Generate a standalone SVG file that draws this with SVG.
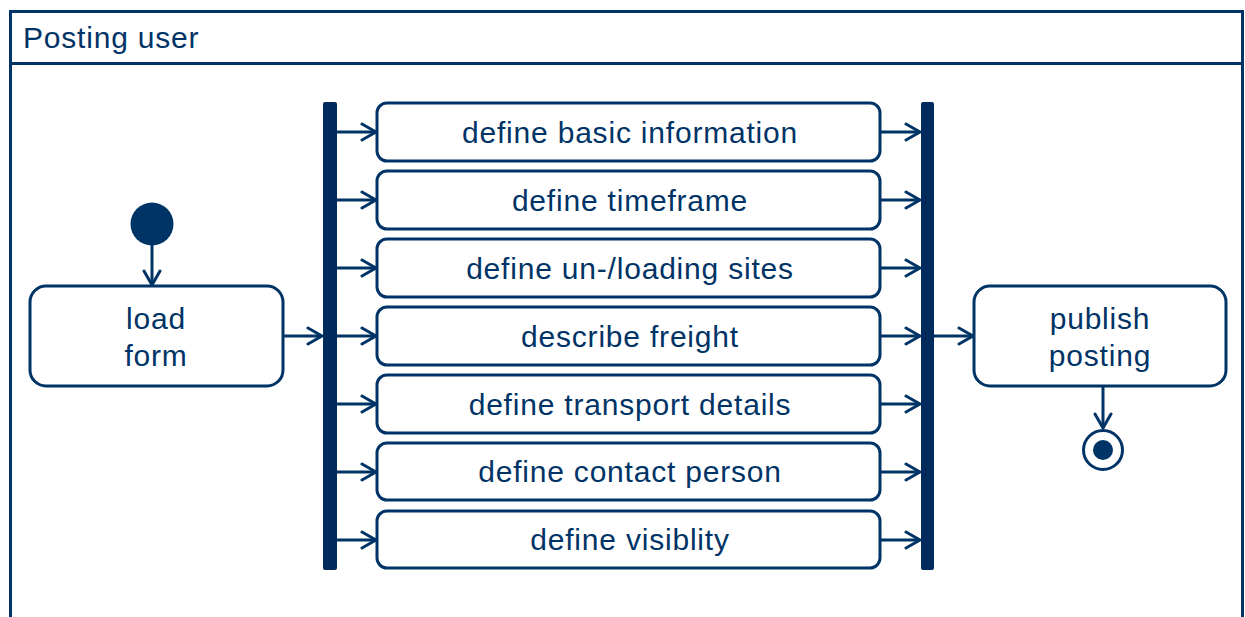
<svg xmlns="http://www.w3.org/2000/svg" width="1245" height="617" viewBox="0 0 1245 617">
<defs>
<style>
.frame{fill:none;stroke:#003366;stroke-width:3}
.act{fill:#fff;stroke:#003366;stroke-width:3}
.bar{fill:#002b5c}
.c{fill:none;stroke:#003366;stroke-width:3}
text{font-family:"Liberation Sans",Arial,sans-serif;font-size:30px;letter-spacing:0.8px;fill:#003366}
.m{text-anchor:middle}
</style>
<marker id="arr" viewBox="0 0 17 20" refX="16" refY="10" markerWidth="17" markerHeight="20" markerUnits="userSpaceOnUse" orient="auto">
<path d="M2,2 L16,10 L2,18" fill="none" stroke="#003366" stroke-width="3" stroke-linecap="round" stroke-linejoin="round"/>
</marker>
</defs>
<g id="frame">
<path class="frame" d="M10.5,640 L10.5,11.5 L1242.5,11.5 L1242.5,640"/>
<line class="frame" x1="10.5" y1="63.5" x2="1242.5" y2="63.5"/>
<text x="23" y="48">Posting user</text>
</g>
<g id="connectors">
<line class="c" x1="152" y1="245" x2="152" y2="285" marker-end="url(#arr)"/>
<line class="c" x1="283" y1="336" x2="322" y2="336" marker-end="url(#arr)"/>
<line class="c" x1="337" y1="132" x2="376" y2="132" marker-end="url(#arr)"/>
<line class="c" x1="337" y1="200" x2="376" y2="200" marker-end="url(#arr)"/>
<line class="c" x1="337" y1="268" x2="376" y2="268" marker-end="url(#arr)"/>
<line class="c" x1="337" y1="336" x2="376" y2="336" marker-end="url(#arr)"/>
<line class="c" x1="337" y1="404" x2="376" y2="404" marker-end="url(#arr)"/>
<line class="c" x1="337" y1="472" x2="376" y2="472" marker-end="url(#arr)"/>
<line class="c" x1="337" y1="540" x2="376" y2="540" marker-end="url(#arr)"/>
<line class="c" x1="880" y1="132" x2="920" y2="132" marker-end="url(#arr)"/>
<line class="c" x1="880" y1="200" x2="920" y2="200" marker-end="url(#arr)"/>
<line class="c" x1="880" y1="268" x2="920" y2="268" marker-end="url(#arr)"/>
<line class="c" x1="880" y1="336" x2="920" y2="336" marker-end="url(#arr)"/>
<line class="c" x1="880" y1="404" x2="920" y2="404" marker-end="url(#arr)"/>
<line class="c" x1="880" y1="472" x2="920" y2="472" marker-end="url(#arr)"/>
<line class="c" x1="880" y1="540" x2="920" y2="540" marker-end="url(#arr)"/>
<line class="c" x1="934" y1="336" x2="973" y2="336" marker-end="url(#arr)"/>
<line class="c" x1="1103" y1="387" x2="1103" y2="428" marker-end="url(#arr)"/>
</g>
<g id="start"><circle cx="152" cy="224" r="21.5" fill="#003366"/></g>
<g id="load-form">
<rect class="act" x="30" y="286" width="253" height="100" rx="16"/>
<text class="m" x="156" y="329">load</text>
<text class="m" x="156" y="366">form</text>
</g>
<g id="fork"><rect class="bar" x="323" y="102" width="14" height="468" rx="2"/></g>
<g id="join"><rect class="bar" x="921" y="102" width="13" height="468" rx="2"/></g>
<g id="a1"><rect class="act" x="377" y="103" width="503" height="58" rx="10"/><text class="m" x="630" y="143">define basic information</text></g>
<g id="a2"><rect class="act" x="377" y="171" width="503" height="58" rx="10"/><text class="m" x="630" y="211">define timeframe</text></g>
<g id="a3"><rect class="act" x="377" y="239" width="503" height="58" rx="10"/><text class="m" x="630" y="279">define un-/loading sites</text></g>
<g id="a4"><rect class="act" x="377" y="307" width="503" height="58" rx="10"/><text class="m" x="630" y="347">describe freight</text></g>
<g id="a5"><rect class="act" x="377" y="375" width="503" height="58" rx="10"/><text class="m" x="630" y="415">define transport details</text></g>
<g id="a6"><rect class="act" x="377" y="443" width="503" height="57" rx="10"/><text class="m" x="630" y="482">define contact person</text></g>
<g id="a7"><rect class="act" x="377" y="511" width="503" height="57" rx="10"/><text class="m" x="630" y="550">define visiblity</text></g>
<g id="publish">
<rect class="act" x="974" y="286" width="252" height="100" rx="16"/>
<text class="m" x="1100" y="329">publish</text>
<text class="m" x="1100" y="366">posting</text>
</g>
<g id="end">
<circle cx="1103" cy="450" r="19.5" fill="#fff" stroke="#003366" stroke-width="3"/>
<circle cx="1103" cy="450" r="10" fill="#003366"/>
</g>
</svg>
